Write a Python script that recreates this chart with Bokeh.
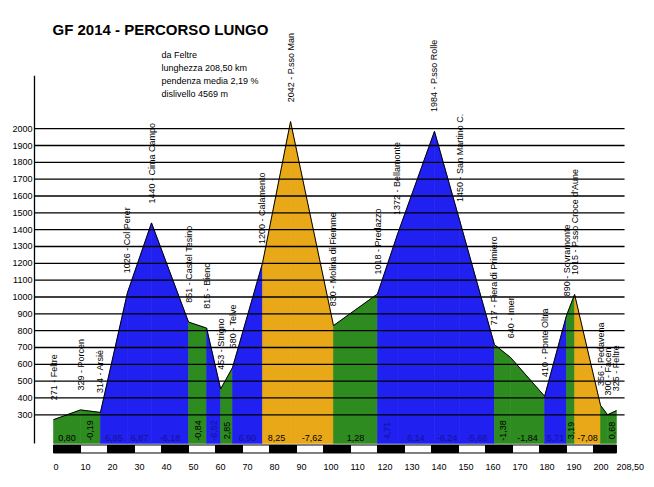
import math
from bokeh.plotting import figure
from bokeh.models import Range1d
from bokeh.embed import file_html
from bokeh.resources import INLINE
from bokeh.core.properties import value

# ---------------- data ----------------
wp_km = [0.0, 10.0, 17.4, 27.4, 36.3, 50.0, 56.7, 61.9, 66.3, 77.4, 87.8, 103.7,
         120.0, 127.4, 141.1, 150.5, 163.3, 169.3, 181.9, 190.0, 193.0, 202.6, 205.2, 208.5]
wp_elev = [271, 329, 314, 1026, 1440, 851, 815, 453, 580, 1200, 2042, 830,
           1018, 1372, 1984, 1450, 717, 640, 410, 890, 1015, 356, 300, 325]
wp_name = ["Feltre", "Porcen", "Arsiè", "Col Perer", "Cima Campo", "Castel Tesino", "Bieno",
           "Strigno", "Telve", "Calamento", "P.sso Man", "Molina di Fiemme", "Predazzo",
           "Bellamonte", "P.sso Rolle", "San Martino C.", "Fiera di Primiero", "Imer",
           "Ponte Oltra", "Sovramonte", "P.sso Croce d'Aune", "Pedavena", "Facen", "Feltre"]
# gradient (%) of each stretch between consecutive waypoints (None = not labelled)
seg_grad = [0.80, -0.19, 6.85, 6.87, -6.18, -0.84, -6.52, 2.85, 6.90, 8.25, -7.62, 1.28,
            4.71, 6.14, -6.24, -5.66, -1.38, -1.84, 5.71, 3.19, -7.08, None, 0.68]

y_ticks = list(range(300, 2001, 100))
x_ticks = [0, 10, 20, 30, 40, 50, 60, 70, 80, 90, 100, 110, 120, 130, 140, 150,
           160, 170, 180, 190, 200, 208.5]
x_tick_labels = ["0", "10", "20", "30", "40", "50", "60", "70", "80", "90", "100", "110",
                 "120", "130", "140", "150", "160", "170", "180", "190", "200", "208,50"]

title_text = "GF 2014 - PERCORSO LUNGO"
info_lines = ["da Feltre", "lunghezza 208,50 km", "pendenza media 2,19 %", "dislivello 4569 m"]

# ---------------- style ----------------
FONT = value("Liberation Sans")
GREEN = "#2E8B1F"
BLUE = "#2020F0"
ORANGE = "#E8A817"
BASE = 130          # bottom of the filled profile (m)
GRID_X0, GRID_X1 = -7.04, 211.5


def seg_color(g):
    if g is None or abs(g) < 4:
        return GREEN
    if abs(g) < 7:
        return BLUE
    return ORANGE


def fmt(g):
    return "" if g is None else ("%.2f" % g).replace(".", ",")


p = figure(width=650, height=482,
           x_range=Range1d(-19.63, 221.11), y_range=Range1d(-102.3, 2761.7),
           output_backend="svg", toolbar_location=None, min_border=0,
           x_axis_location=None, y_axis_location=None, title=None)
p.grid.visible = False
p.outline_line_color = None
p.background_fill_color = "white"
p.border_fill_color = "white"

# filled stretches
xs, ys, cols = [], [], []
for i, g in enumerate(seg_grad):
    x0, x1 = wp_km[i], wp_km[i + 1]
    e0, e1 = wp_elev[i], wp_elev[i + 1]
    xs.append([x0, x0, x1, x1])
    ys.append([BASE, e0, e1, BASE])
    cols.append(seg_color(g))
p.patches(xs=xs, ys=ys, fill_color=cols, line_color=cols, line_width=0.6)

# profile outline
p.line(wp_km, wp_elev, line_color="black", line_width=1)

# horizontal grid lines
p.segment(x0=[GRID_X0] * len(y_ticks), y0=y_ticks, x1=[GRID_X1] * len(y_ticks), y1=y_ticks,
          line_color="black", line_width=1.3)

# y axis line
p.segment(x0=[GRID_X0], y0=[BASE], x1=[GRID_X0], y1=[2314], line_color="black", line_width=1.3)

# y tick labels
p.text(x=[-7.8] * len(y_ticks), y=y_ticks, text=[str(v) for v in y_ticks],
       text_font=FONT, text_font_size="9px", text_align="right", text_baseline="middle",
       text_color="black")

# distance strip
lefts = x_ticks[:-1]
rights = x_ticks[1:]
strip_cols = ["black" if i % 2 == 0 else "white" for i in range(len(lefts))]
p.quad(left=lefts, right=rights, top=[120.6] * len(lefts), bottom=[73] * len(lefts),
       fill_color=strip_cols, line_color="black", line_width=1)

# x tick labels
p.text(x=x_ticks, y=[-13] * len(x_ticks), text=x_tick_labels, text_font=FONT,
       text_font_size="9px", text_align="left", text_baseline="middle", text_color="black")

# waypoint labels (vertical)
p.text(x=wp_km, y=[e + 115 for e in wp_elev],
       text=["%d - %s" % (e, n) for e, n in zip(wp_elev, wp_name)],
       angle=math.pi / 2, text_font=FONT, text_font_size="9px",
       text_align="left", text_baseline="middle", text_color="black")

# gradient labels
hx, ht, hc, vx, vt, vc = [], [], [], [], [], []
for i, g in enumerate(seg_grad):
    if g is None:
        continue
    mid = (wp_km[i] + wp_km[i + 1]) / 2
    col = "#14148c" if seg_color(g) == BLUE else "black"
    if wp_km[i + 1] - wp_km[i] < 8:
        vx.append(mid); vt.append(fmt(g)); vc.append(col)
    else:
        hx.append(mid); ht.append(fmt(g)); hc.append(col)
p.text(x=hx, y=[165] * len(hx), text=ht, text_color=hc, text_font=FONT, text_font_size="9px",
       text_align="center", text_baseline="middle")
p.text(x=vx, y=[207] * len(vx), text=vt, text_color=vc, text_font=FONT, text_font_size="9px",
       text_align="center", text_baseline="middle", angle=math.pi / 2)

# title and info
p.text(x=[-0.37], y=[2589], text=[title_text], text_font=FONT, text_font_size="15px",
       text_font_style="bold", text_align="left", text_baseline="middle", text_color="black")
p.text(x=[40.0] * len(info_lines), y=[2435, 2358, 2281, 2209], text=info_lines,
       text_font=FONT, text_font_size="9px", text_align="left", text_baseline="middle",
       text_color="black")

open("out.html", "w").write(file_html(p, INLINE))
